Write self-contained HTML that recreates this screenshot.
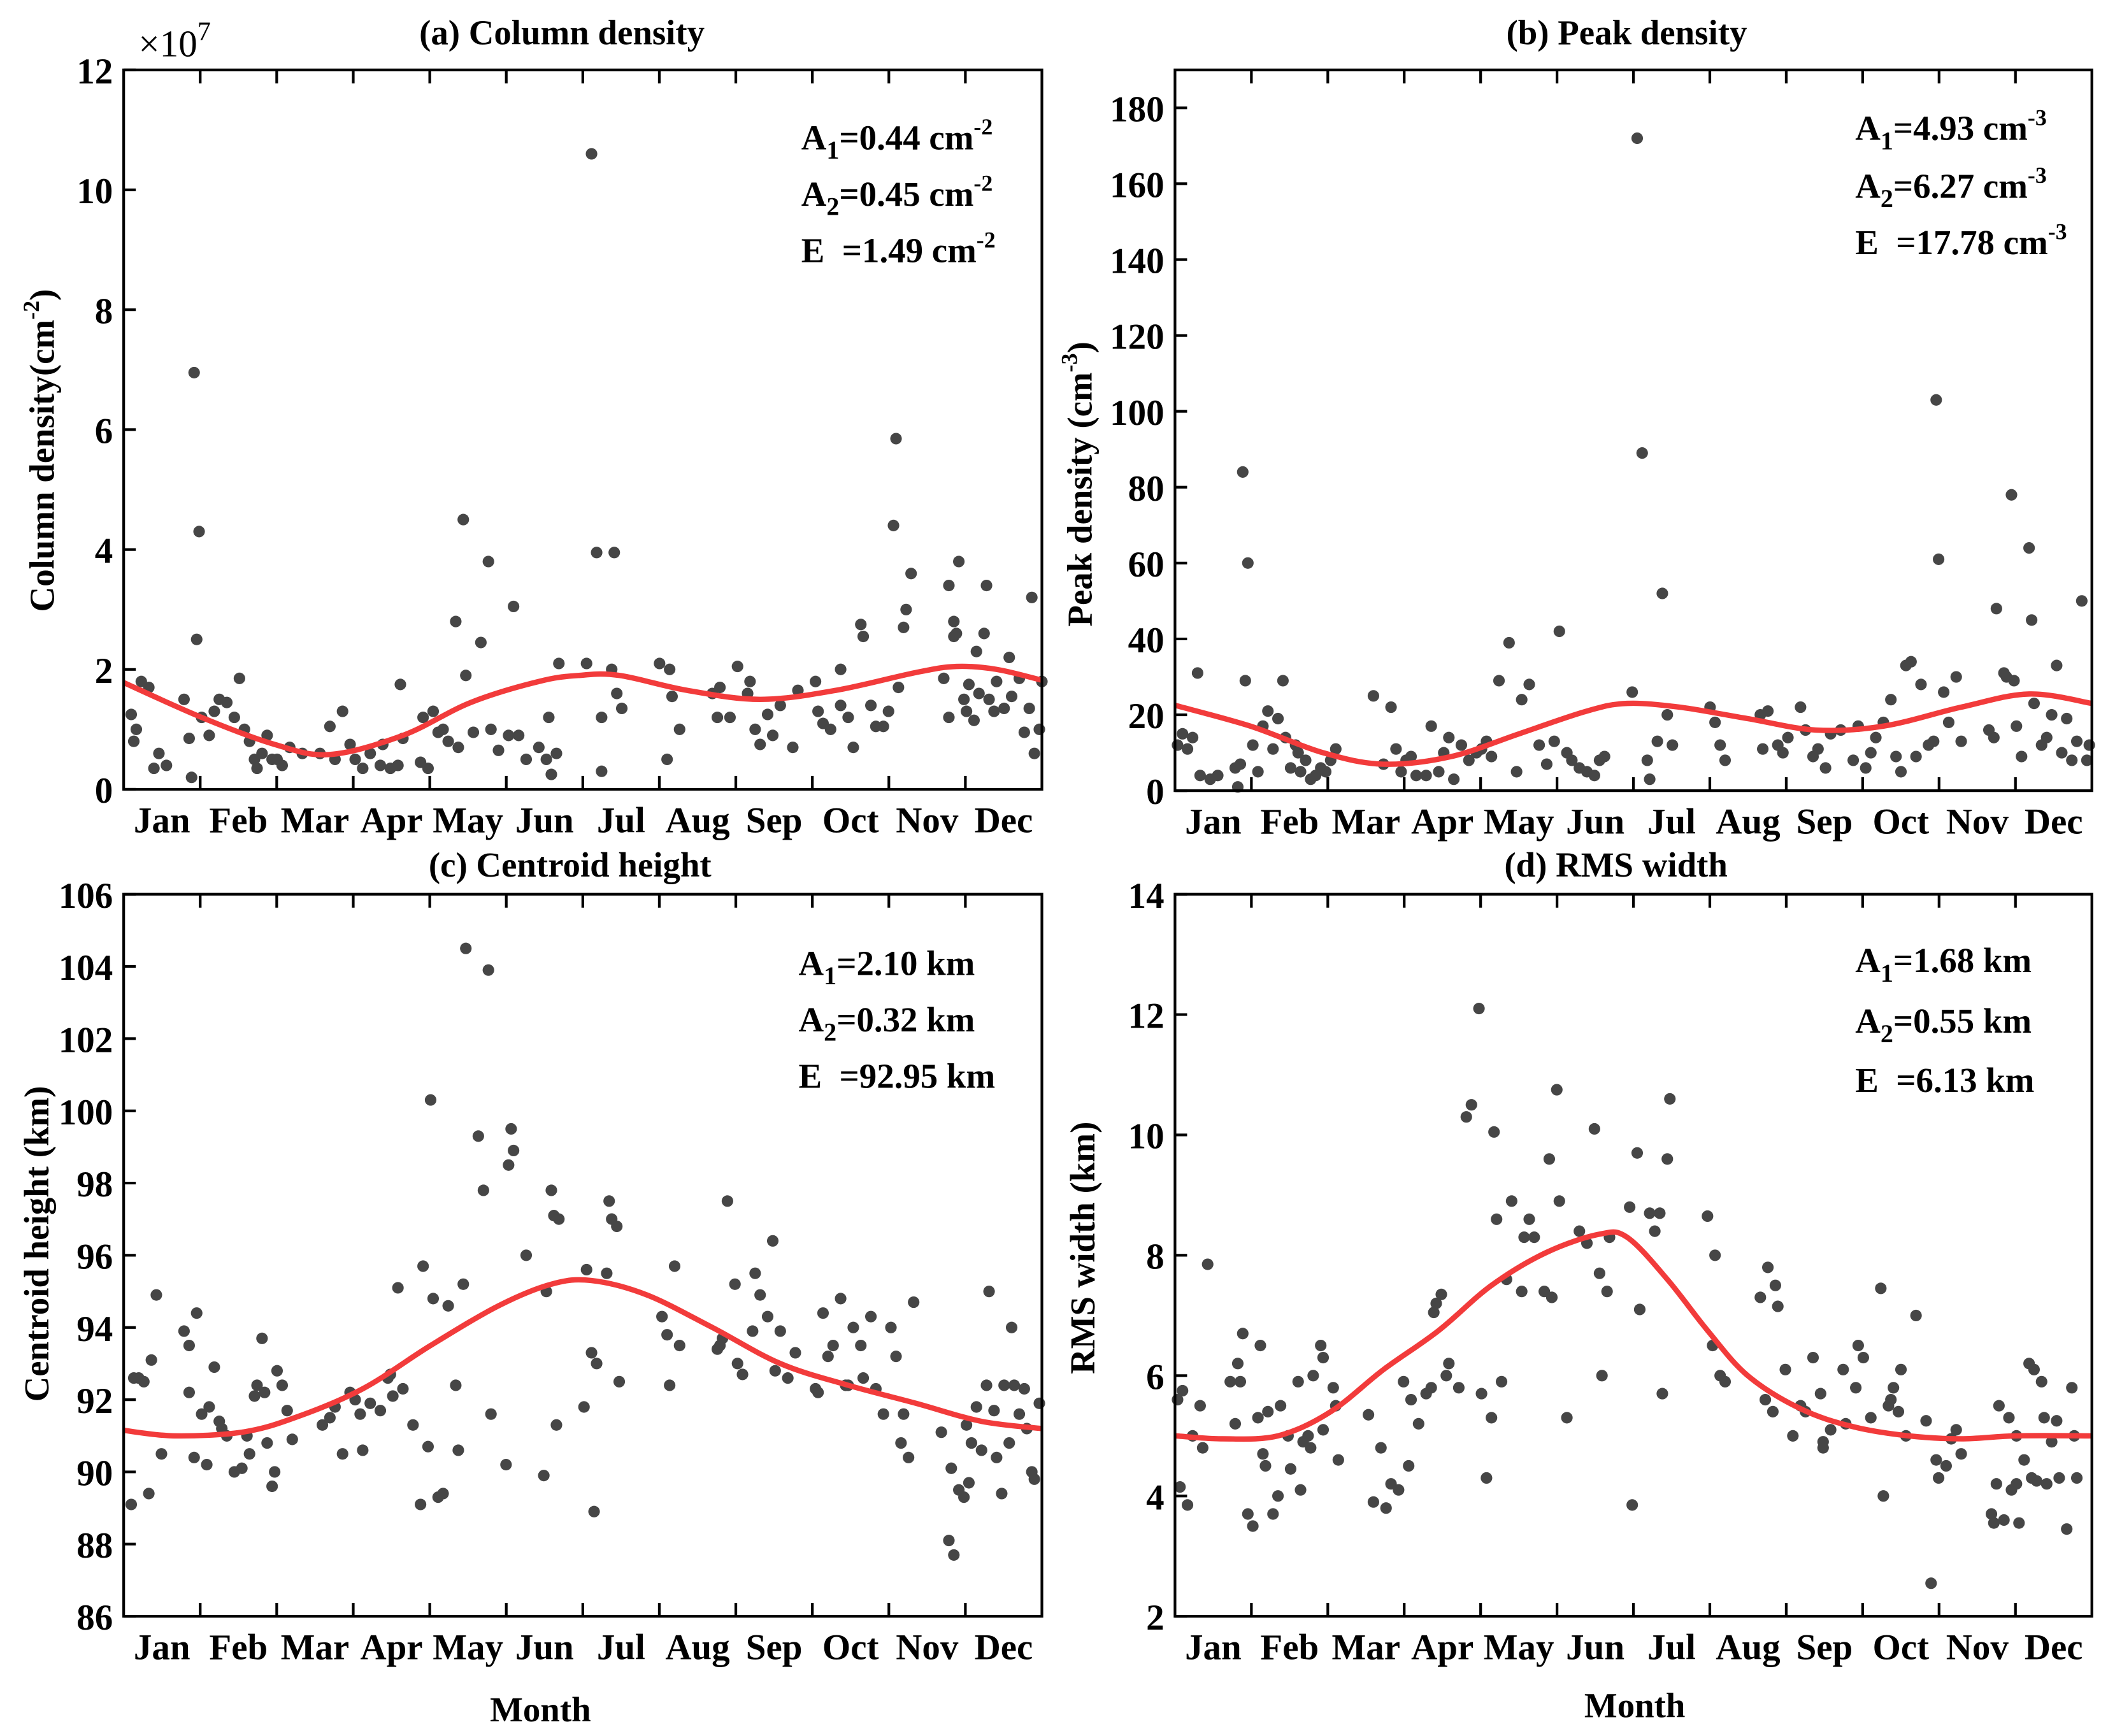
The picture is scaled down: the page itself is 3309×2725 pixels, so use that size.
<!DOCTYPE html>
<html><head><meta charset="utf-8"><title>Seasonal variation</title>
<style>html,body{margin:0;padding:0;background:#fff}svg{display:block}text{font-family:"Liberation Serif",serif;font-weight:bold;fill:#000}</style>
</head><body>
<svg id="fig" width="3309" height="2725" viewBox="0 0 1568 1291" preserveAspectRatio="none" xmlns="http://www.w3.org/2000/svg"></svg>
<script>
const months=["Jan","Feb","Mar","Apr","May","Jun","Jul","Aug","Sep","Oct","Nov","Dec"];
// Panel a: column density (x1e7 cm^-2)
const aDays=[3,4,5,7,10,12,14,17,24,26,27,28,30,29,31,34,36,38,41,44,46,48,50,52,53,55,57,59,61,63,66,71,78,82,84,87,90,92,95,98,102,103,106,109,110,111,118,119,121,123,125,127,129,132,133,135,136,139,142,145,146,149,153,155,157,160,165,168,170,172,169,173,184,186,188,190,190,194,195,196,198,213,216,217,218,221,234,236,237,241,244,248,249,251,253,256,258,261,266,268,275,276,278,281,285,285,288,290,293,294,297,299,302,304,306,307,308,310,311,313,326,328,328,330,330,331,332,334,335,336,338,339,340,342,343,344,346,347,350,352,353,356,358,360,361,362,364,365];
const aVals=[1.25,0.8,1.0,1.8,1.7,0.35,0.6,0.4,1.5,0.85,0.2,6.95,4.3,2.5,1.2,0.9,1.3,1.5,1.45,1.2,1.85,1.0,0.8,0.5,0.35,0.6,0.9,0.5,0.5,0.4,0.7,0.6,0.6,1.05,0.5,1.3,0.75,0.5,0.35,0.6,0.4,0.75,0.35,0.4,1.75,0.85,0.45,1.2,0.35,1.3,0.95,1.0,0.8,2.8,0.7,4.5,1.9,0.95,2.45,3.8,1.0,0.65,0.9,3.05,0.9,0.5,0.7,0.5,0.25,0.6,1.2,2.1,2.1,10.6,3.95,1.2,0.3,2.0,3.95,1.6,1.35,2.1,0.5,2.0,1.55,1.0,1.6,1.2,1.7,1.2,2.05,1.6,1.8,1.0,0.75,1.25,0.9,1.4,0.7,1.65,1.8,1.3,1.1,1.0,1.4,2.0,1.2,0.7,2.75,2.55,1.4,1.05,1.05,1.3,4.4,5.85,1.7,2.7,3.0,3.6,1.85,3.4,1.2,2.8,2.55,2.6,3.8,1.5,1.3,1.75,1.15,2.3,1.6,2.6,3.4,1.5,1.3,1.8,1.35,2.2,1.55,1.85,0.95,1.35,3.2,0.6,1.0,1.8];
const aFitDays=[0,31,60,82,111,138,165,181,197,224,253,283,315,331,347,365];
const aFitVals=[1.78,1.2,0.75,0.58,0.9,1.45,1.8,1.9,1.9,1.65,1.5,1.65,1.95,2.05,2.0,1.82];
// Panel b: peak density (cm^-3)
const bDays=[1,3,5,7,9,10,14,17,24,25,26,27,29,28,31,33,35,37,39,41,43,44,46,48,49,50,52,54,56,58,60,62,64,79,83,86,88,90,92,94,96,100,102,105,107,109,111,114,117,120,122,124,126,129,133,136,138,141,145,148,151,153,156,158,161,164,167,169,171,182,184,186,188,189,192,194,196,198,213,215,217,219,233,234,236,240,242,244,249,251,254,256,259,261,265,270,272,275,277,279,282,285,287,289,291,293,295,297,300,302,303,304,306,308,311,313,324,326,327,330,331,333,334,335,337,340,341,342,345,347,349,351,353,355,357,359,361,363,364];
const bVals=[12,15,11,14,31,4,3,4,6,1,7,84,60,29,12,5,17,21,11,19,29,14,6,12,10,5,8,3,4,6,5,8,11,25,7,22,11,5,8,9,4,4,17,5,10,14,3,12,8,10,11,13,9,29,39,5,24,28,12,7,13,42,10,8,6,5,4,8,9,26,172,89,8,3,13,52,20,12,22,18,12,8,20,11,21,12,10,14,22,16,9,11,6,15,16,8,17,6,10,14,18,24,9,5,33,34,9,28,12,13,103,61,26,18,30,13,16,14,48,31,30,78,29,17,9,64,45,23,12,14,20,33,10,19,8,13,50,8,12];
const bFitDays=[0,30,59,83,110,137,164,180,201,228,255,282,313,340,365];
const bFitVals=[22.5,17,10,7,9,15,21,23,22,19,16,17,22,25.5,23];
// Panel c: centroid height (km)
const cDays=[3,4,6,8,10,11,13,15,24,26,26,28,29,31,33,34,36,38,39,41,44,47,49,50,52,53,55,56,57,59,60,61,63,65,67,79,82,84,87,90,92,94,95,98,102,105,106,107,109,111,115,118,119,121,122,123,125,127,129,132,133,135,136,141,143,145,146,152,153,154,155,160,167,168,170,171,172,173,183,184,186,187,188,192,193,194,196,197,214,216,217,219,221,236,237,238,240,243,244,246,250,251,253,256,258,259,261,264,267,275,276,278,280,282,285,287,288,290,293,294,297,299,302,305,307,309,310,312,314,325,328,329,330,332,334,335,336,337,339,341,343,344,346,347,349,350,352,353,354,356,358,359,361,362,364];
const cVals=[89.1,92.6,92.6,92.5,89.4,93.1,94.9,90.5,93.9,92.2,93.5,90.4,94.4,91.6,90.2,91.8,92.9,91.4,91.2,91.0,90.0,90.1,91.0,90.5,92.1,92.4,93.7,92.2,90.8,89.6,90.0,92.8,92.4,91.7,90.9,91.3,91.5,91.8,90.5,92.2,92.0,91.6,90.6,91.9,91.7,92.6,92.7,92.1,95.1,92.3,91.3,89.1,95.7,90.7,100.3,94.8,89.3,89.4,94.6,92.4,90.6,95.2,104.5,99.3,97.8,103.9,91.6,90.2,98.5,99.5,98.9,96.0,89.9,95.0,97.8,97.1,91.3,97.0,91.8,95.6,93.3,88.9,93.0,95.5,97.5,97.0,96.8,92.5,94.3,93.8,92.4,95.7,93.5,93.4,93.5,93.7,97.5,95.2,93.0,92.7,93.9,95.5,94.9,94.3,96.4,92.8,93.9,92.6,93.3,92.3,92.2,94.4,93.2,93.5,94.8,92.4,92.4,94.0,93.5,92.6,94.3,92.3,91.6,94.0,93.2,90.8,91.6,90.4,94.7,91.1,88.1,90.1,87.7,89.5,89.3,91.3,89.7,90.8,91.8,90.6,92.4,95.0,91.7,90.4,89.4,92.4,90.8,94.0,92.4,91.6,92.3,91.2,90.0,89.8,91.9,90.4];
const cFitDays=[0,20,47,68,95,122,149,170,186,208,234,261,288,315,341,365];
const cFitVals=[91.15,91.0,91.1,91.5,92.3,93.5,94.6,95.2,95.3,94.9,94.0,93.0,92.4,91.9,91.4,91.2];
// Panel d: RMS width (km)
const dDays=[1,2,3,5,7,10,11,13,22,24,25,26,27,29,31,33,34,35,36,37,39,41,42,45,46,49,50,51,53,54,55,58,59,59,63,64,65,77,79,82,84,86,89,91,93,94,97,100,102,103,104,106,108,109,113,116,118,121,122,124,126,127,128,130,132,134,138,139,141,143,147,149,150,152,153,156,161,164,167,169,170,172,173,181,182,184,185,189,191,193,194,196,197,212,214,215,217,219,233,235,236,238,239,240,243,246,249,251,254,257,258,258,261,266,267,271,272,274,277,281,282,284,285,286,288,289,291,295,299,301,303,304,307,309,311,313,325,326,327,328,330,332,333,335,335,336,338,340,341,342,343,345,346,347,349,351,352,355,357,358,359,361,363];
const dVals=[5.6,4.15,5.75,3.85,5.0,5.5,4.8,7.85,5.9,5.2,6.2,5.9,6.7,3.7,3.5,5.3,6.5,4.7,4.5,5.4,3.7,4.0,5.5,5.0,4.45,5.9,4.1,4.9,5.0,4.8,6.0,6.5,6.3,5.1,5.8,5.5,4.6,5.35,3.9,4.8,3.8,4.2,4.1,5.9,4.5,5.6,5.2,5.7,5.8,7.05,7.2,7.35,6.0,6.2,5.8,10.3,10.5,12.1,5.7,4.3,5.3,10.05,8.6,5.9,7.6,8.9,7.4,8.3,8.6,8.3,7.4,9.6,7.3,10.75,8.9,5.3,8.4,8.2,10.1,7.7,6.0,7.4,8.3,8.8,3.85,9.7,7.1,8.7,8.4,8.7,5.7,9.6,10.6,8.65,6.5,8.0,6.0,5.9,7.3,5.6,7.8,5.4,7.5,7.15,6.1,5.0,5.5,5.4,6.3,5.7,4.8,4.9,5.1,6.1,5.2,5.8,6.5,6.3,5.3,7.45,4.0,5.5,5.6,5.8,5.4,6.1,5.0,7.0,5.25,2.55,4.6,4.3,4.5,4.95,5.1,4.7,3.7,3.55,4.2,5.5,3.6,5.3,4.1,5.0,4.2,3.55,4.6,6.2,4.3,6.1,4.25,5.9,5.3,4.2,4.9,5.25,4.3,3.45,5.8,5.0,4.3];
const dFitDays=[0,19,41,62,83,105,126,148,169,180,196,212,228,249,270,292,313,335,365];
const dFitVals=[5.0,4.95,5.0,5.4,6.1,6.75,7.5,8.05,8.35,8.3,7.6,6.75,6.0,5.45,5.15,5.0,4.95,5.0,5.0];
const yTicksA=[0,2,4,6,8,10,12];
const yTicksB=[0,20,40,60,80,100,120,140,160,180];
const yTicksC=[86,88,90,92,94,96,98,100,102,104,106];
const yTicksD=[2,4,6,8,10,12,14];

const NS="http://www.w3.org/2000/svg";
const svg=document.getElementById("fig");
function mk(tag,attrs,parent){const e=document.createElementNS(NS,tag);for(const k in attrs)e.setAttribute(k,attrs[k]);(parent||svg).appendChild(e);return e;}
function smooth(pts){let d="M"+pts[0][0].toFixed(1)+","+pts[0][1].toFixed(1);
 for(let i=0;i<pts.length-1;i++){const p0=pts[Math.max(0,i-1)],p1=pts[i],p2=pts[i+1],p3=pts[Math.min(pts.length-1,i+2)];
  const c1=[p1[0]+(p2[0]-p0[0])/6,p1[1]+(p2[1]-p0[1])/6],c2=[p2[0]-(p3[0]-p1[0])/6,p2[1]-(p3[1]-p1[1])/6];
  d+=" C"+c1[0].toFixed(1)+","+c1[1].toFixed(1)+" "+c2[0].toFixed(1)+","+c2[1].toFixed(1)+" "+p2[0].toFixed(1)+","+p2[1].toFixed(1);}
 return d;}

function panel(cfg){
 const g=mk("g",{});
 
 
 const xs=d=>cfg.x0+(cfg.x1-cfg.x0)*d/365;
 const ys=v=>cfg.yb-(cfg.yb-cfg.yt)*(v-cfg.ymin)/(cfg.ymax-cfg.ymin);
 const dg=mk("g",{fill:"#464646"},g);
 
 
 const n=Math.min(cfg.days.length,cfg.vals.length);
 for(let i=0;i<n;i++){
  const c=mk("circle",{cx:xs(cfg.days[i]).toFixed(1),cy:ys(cfg.vals[i]).toFixed(1),r:4.3},dg);
  
  
 }
 const pts=cfg.fd.map((d,i)=>[xs(d),ys(cfg.fv[i])]);
 const fl=mk("path",{d:smooth(pts),fill:"none",stroke:"#f23b3b","stroke-width":4},g);
 
 
 const bx=mk("rect",{x:cfg.x0,y:cfg.yt,width:cfg.x1-cfg.x0,height:cfg.yb-cfg.yt,fill:"none",stroke:"#000","stroke-width":2},g);
 
 
 cfg.yt_.forEach(v=>{const y=ys(v);
  mk("line",{x1:cfg.x0,x2:cfg.x0+9,y1:y,y2:y,stroke:"#000","stroke-width":2},g);
  const t=mk("text",{x:cfg.x0-8,y:y+10,"text-anchor":"end","font-size":27},g);t.textContent=v;
  
  });
 for(let i=1;i<12;i++){const x=xs(i*365/12);
  mk("line",{x1:x,x2:x,y1:cfg.yb,y2:cfg.yb-10,stroke:"#000","stroke-width":2},g);
  mk("line",{x1:x,x2:x,y1:cfg.yt,y2:cfg.yt+10,stroke:"#000","stroke-width":2},g);}
 months.forEach((m,i)=>{const t=mk("text",{x:xs((i+0.5)*365/12),y:cfg.yb+32,"text-anchor":"middle","font-size":27},g);t.textContent=m;
  
  });
 const tt=mk("text",{x:cfg.tx,y:cfg.ty,"text-anchor":"middle","font-size":26},g);tt.textContent=cfg.title;
 
 
 const yl=mk("text",{transform:`translate(${cfg.lx},${cfg.ly}) rotate(-90)`,"text-anchor":"middle","font-size":26},g);yl.innerHTML=cfg.ylab;
 
 
 cfg.ann.forEach((a,i)=>{const t=mk("text",{x:cfg.ax,y:cfg.ay[i],"font-size":26},g);t.innerHTML=a;
  
  });
 if(cfg.xlab){const t=mk("text",{x:cfg.xlx,y:cfg.xly,"text-anchor":"middle","font-size":26},g);t.textContent="Month";
  
  }
}
const sub=(s)=>`<tspan dy="7" font-size="19">${s}</tspan><tspan dy="-7">`;
const sup=(s)=>`<tspan dy="-11" font-size="17">${s}</tspan>`;
panel({name:"panel-a-column-density",x0:92,x1:775,yt:52,yb:587,ymin:0,ymax:12,yt_:yTicksA,days:aDays,vals:aVals,fd:aFitDays,fv:aFitVals,
 title:"(a) Column density",tx:418,ty:33,lx:40,ly:335,ylab:"Column density(cm"+sup("-2")+"<tspan dy='11'>)</tspan>",
 ax:596,ay:[111,153,195],ann:["A"+sub("1")+"=0.44 cm"+sup("-2")+"</tspan>","A"+sub("2")+"=0.45 cm"+sup("-2")+"</tspan>","E&#160; =1.49 cm"+sup("-2")]});
panel({name:"panel-b-peak-density",x0:874,x1:1556,yt:52,yb:588,ymin:0,ymax:190,yt_:yTicksB,days:bDays,vals:bVals,fd:bFitDays,fv:bFitVals,
 title:"(b) Peak density",tx:1210,ty:33,lx:812,ly:360,ylab:"Peak density (cm"+sup("-3")+"<tspan dy='11'>)</tspan>",
 ax:1380,ay:[104,147,189],ann:["A"+sub("1")+"=4.93 cm"+sup("-3")+"</tspan>","A"+sub("2")+"=6.27 cm"+sup("-3")+"</tspan>","E&#160; =17.78 cm"+sup("-3")]});
panel({name:"panel-c-centroid-height",x0:92,x1:775,yt:665,yb:1202,ymin:86,ymax:106,yt_:yTicksC,days:cDays,vals:cVals,fd:cFitDays,fv:cFitVals,
 title:"(c) Centroid height",tx:424,ty:652,lx:36,ly:925,ylab:"Centroid height (km)",
 ax:594,ay:[725,767,809],ann:["A"+sub("1")+"=2.10 km</tspan>","A"+sub("2")+"=0.32 km</tspan>","E&#160; =92.95 km"],xlab:true,xlx:402,xly:1280});
panel({name:"panel-d-rms-width",x0:874,x1:1556,yt:665,yb:1202,ymin:2,ymax:14,yt_:yTicksD,days:dDays,vals:dVals,fd:dFitDays,fv:dFitVals,
 title:"(d) RMS width",tx:1202,ty:652,lx:814,ly:928,ylab:"RMS width (km)",
 ax:1380,ay:[723,768,812],ann:["A"+sub("1")+"=1.68 km</tspan>","A"+sub("2")+"=0.55 km</tspan>","E&#160; =6.13 km"],xlab:true,xlx:1216,xly:1277});
const m=mk("text",{x:103,y:42,"font-size":28});m.innerHTML="×10"+"<tspan dy='-12' font-size='20'>7</tspan>";


m.style.fontWeight="normal";
</script>
</body></html>
